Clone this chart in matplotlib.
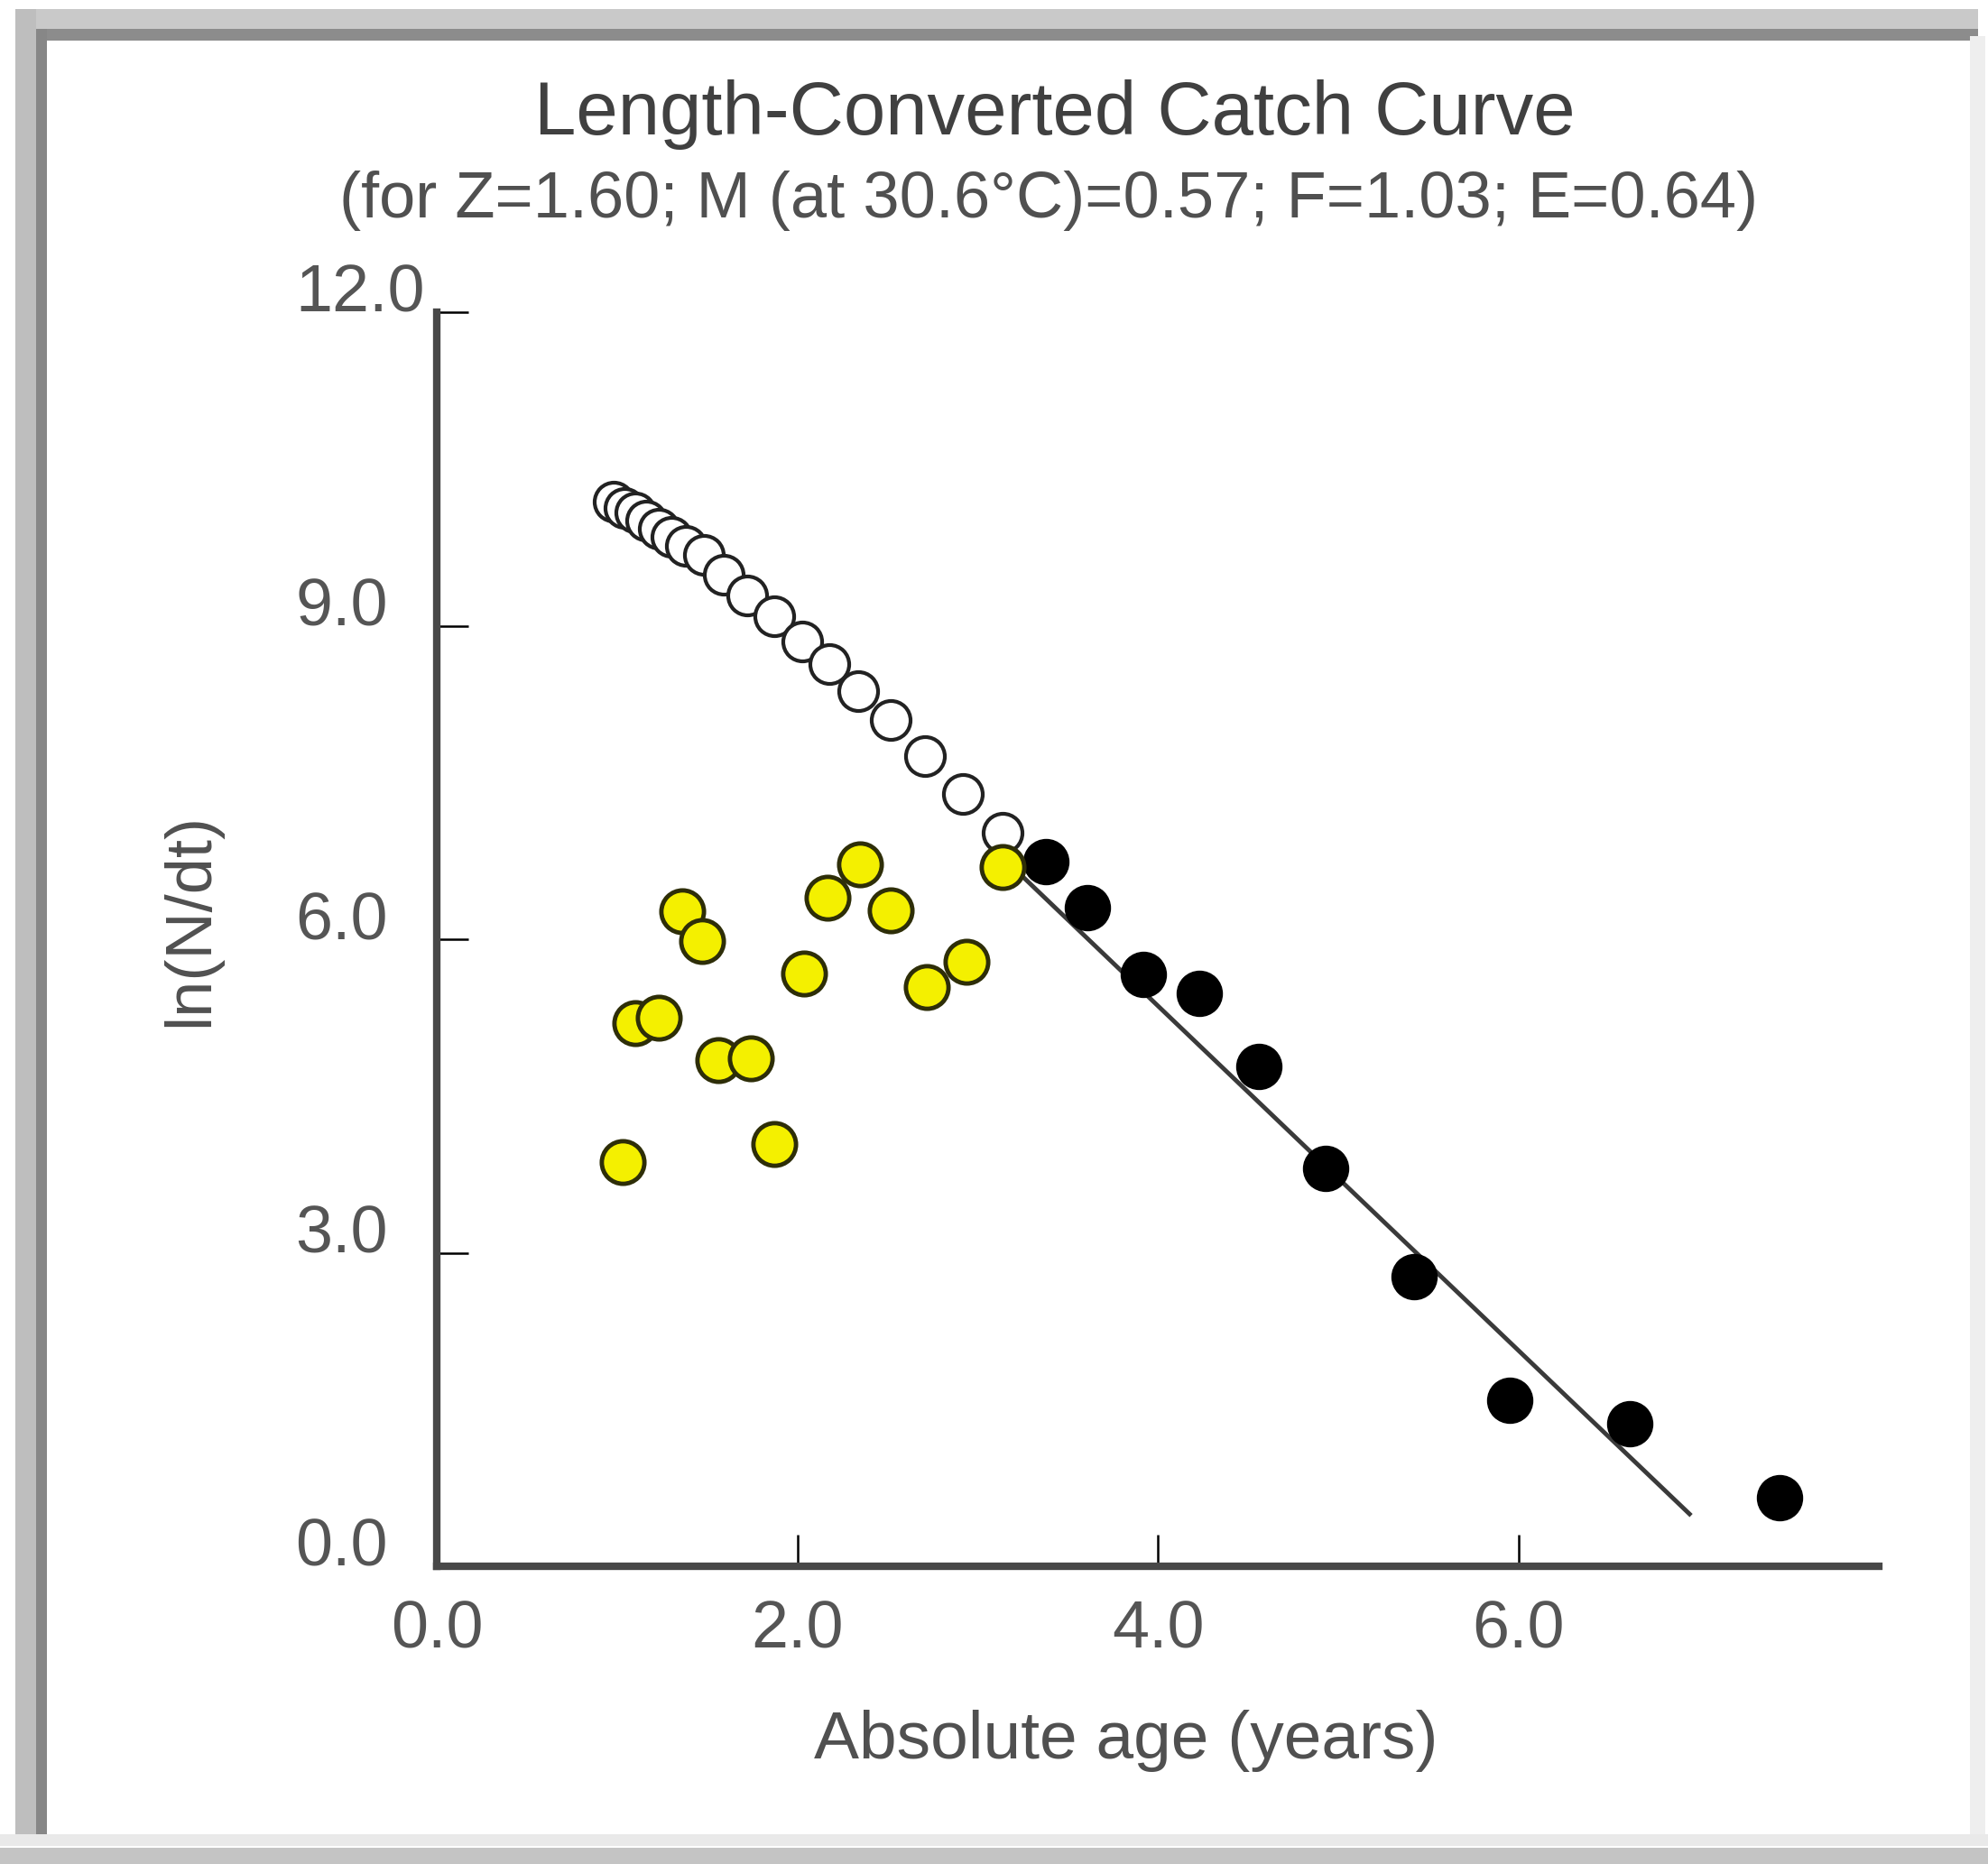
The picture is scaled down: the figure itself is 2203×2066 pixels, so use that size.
import matplotlib
matplotlib.use("Agg")
import matplotlib.pyplot as plt
from matplotlib.patches import Rectangle

plt.rcParams['font.family'] = ['Liberation Sans', 'DejaVu Sans']

# open circles (not used in the fit)
open_age = [0.98, 1.04, 1.10, 1.16, 1.23, 1.30, 1.38, 1.48, 1.59, 1.72,
            1.87, 2.03, 2.18, 2.34, 2.52, 2.71, 2.92, 3.14]
open_ln = [10.19, 10.13, 10.08, 10.01, 9.93, 9.85, 9.76, 9.68, 9.49, 9.29,
           9.09, 8.85, 8.63, 8.37, 8.10, 7.75, 7.39, 7.02]

# yellow points
yel_age = [1.03, 1.10, 1.23, 1.36, 1.47, 1.56, 1.74, 1.87, 2.04, 2.17,
           2.35, 2.52, 2.72, 2.94, 3.14]
yel_ln = [3.87, 5.20, 5.25, 6.27, 5.98, 4.84, 4.86, 4.04, 5.67, 6.40,
          6.72, 6.28, 5.54, 5.78, 6.69]

# black points (used in the fit)
fit_age = [3.38, 3.61, 3.92, 4.23, 4.56, 4.93, 5.42, 5.95, 6.62, 7.45]
fit_ln = [6.74, 6.30, 5.66, 5.48, 4.78, 3.81, 2.77, 1.59, 1.36, 0.66]

# regression line ends
line_age = [3.25, 6.95]
line_ln = [6.60, 0.50]

xticks = [0.0, 2.0, 4.0, 6.0]
yticks = [0.0, 3.0, 6.0, 9.0, 12.0]

title = "Length-Converted Catch Curve"
subtitle = "(for Z=1.60; M (at 30.6\u00b0C)=0.57; F=1.03; E=0.64)"

W, H = 2203, 2066
fig = plt.figure(figsize=(W / 100, H / 100), dpi=100)


def px_rect(x0, y0, x1, y1, color):
    # rectangle given in pixel coords from the top-left corner
    fig.add_artist(Rectangle((x0 / W, 1 - y1 / H), (x1 - x0) / W, (y1 - y0) / H,
                             transform=fig.transFigure, color=color, lw=0, zorder=0))


# window frame
px_rect(17, 10, 2192, 32, '#c9c9c9')
px_rect(40, 32, 2192, 45, '#8c8c8c')
px_rect(17, 10, 40, 2040, '#bebebe')
px_rect(40, 32, 52, 2040, '#878787')
px_rect(2183, 40, 2200, 2040, '#eeeeee')
px_rect(0, 2033, W, 2046, '#e9e9e9')
px_rect(0, 2048, W, H, '#c4c4c4')

ax = fig.add_axes([484 / W, 1 - 1736 / H, (2082 - 484) / W, (1736 - 346) / H])
ax.set_xlim(0, 8)
ax.set_ylim(0, 12)

ax.plot(line_age, line_ln, color='#3a3a3a', lw=3.5, zorder=1)
ax.plot(fit_age, fit_ln, 'o', ms=36, mfc='black', mec='black', mew=1, zorder=2)
ax.plot(open_age, open_ln, 'o', ms=31, mfc='white', mec='#222222', mew=3, zorder=3)
ax.plot(yel_age, yel_ln, 'o', ms=34, mfc='#f4f000', mec='#2e2e08', mew=3.5, zorder=4)

for side in ['top', 'right']:
    ax.spines[side].set_visible(False)
for side in ['left', 'bottom']:
    ax.spines[side].set_linewidth(6)
    ax.spines[side].set_color('#484848')

ax.set_xticks(xticks, [f"{v:.1f}" for v in xticks], fontsize=53, color='#555555')
ax.set_yticks(yticks, [f"{v:.1f}" for v in yticks], fontsize=53, color='#555555',
              ha='left', va='baseline')
ax.tick_params(axis='both', direction='in', length=25, width=1.8, color='black')
ax.tick_params(axis='x', pad=26)
ax.tick_params(axis='y', pad=113)

fig.text(1169 / W, 1 - 127 / H, title, fontsize=60, color='#404040',
         ha='center', va='center')
fig.text(1162 / W, 1 - 222 / H, subtitle, fontsize=52, color='#505050',
         ha='center', va='center')
fig.text(1248 / W, 1 - 1930 / H, "Absolute age (years)", fontsize=54,
         color='#505050', ha='center', va='center')
fig.text(212 / W, 1 - 1019 / H, "ln(N/dt)", fontsize=52, color='#505050',
         rotation=90, ha='center', va='center')

fig.savefig("out.png", dpi=100, facecolor='white')
